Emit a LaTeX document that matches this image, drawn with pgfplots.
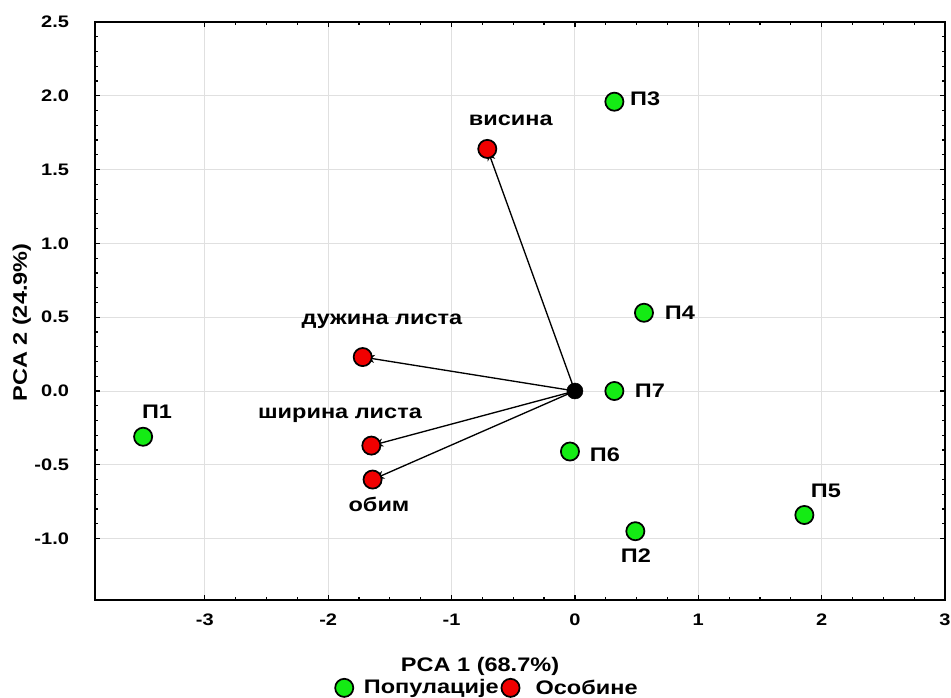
\documentclass[border=0pt]{standalone}
\usepackage{fontspec}
\setmainfont{Liberation Sans}[FakeStretch=1.2]
\usepackage{pgfplots}
\usepackage{pgfplotstable}
\pgfplotsset{compat=1.18}
\usetikzlibrary{arrows.meta}
\definecolor{ptgreen}{RGB}{20,235,20}
\definecolor{ptred}{RGB}{240,0,0}
\newcommand{\tickfont}{\fontsize{12.5pt}{14pt}\selectfont\bfseries}
\newcommand{\lblfont}{\fontsize{14.7pt}{16pt}\selectfont\bfseries}

\pgfplotstableread{
x y
-3.50 -0.31
0.49 -0.95
0.32 1.96
0.56 0.53
1.86 -0.84
-0.04 -0.41
0.32 0.00
}\pops

\pgfplotstableread{
x y
-0.71 1.64
-1.72 0.23
-1.65 -0.37
-1.64 -0.60
}\feats

\pgfplotstableread{
x0 y0 u v
0 0 -0.71 1.64
0 0 -1.72 0.23
0 0 -1.65 -0.37
0 0 -1.64 -0.60
}\vecs

\begin{document}
\begin{tikzpicture}
\begin{axis}[
  scale only axis, width=637.5pt, height=433.5pt,
  xmin=-3.89, xmax=3, ymin=-1.416, ymax=2.5,
  xtick={-3,-2,-1,0,1,2,3},
  ytick={-1,-0.5,0,0.5,1,1.5,2,2.5},
  minor x tick num=3, minor y tick num=4,
  tick align=inside,
  major tick length=3.5pt, minor tick length=2.3pt,
  tick style={black, line width=0.9pt},
  grid=major, major grid style={black!12, line width=0.7pt},
  axis line style={line width=1.2pt},
  /pgf/number format/assume math mode=true,
  xticklabel style={font=\tickfont, yshift=-7pt},
  yticklabel style={font=\tickfont, xshift=-16pt,
    /pgf/number format/.cd, fixed, fixed zerofill, precision=1},
  xlabel={PCA 1 (68.7\%)},
  ylabel={PCA 2 (24.9\%)},
  xlabel style={font=\lblfont, at={(axis description cs:0.453,-0.115)}, anchor=center},
  ylabel style={font=\lblfont, at={(axis description cs:-0.086,0.48)}, anchor=center, rotate=0},
  legend columns=2,
  legend style={draw=none, fill=none, font=\lblfont, at={(axis description cs:0.462,-0.152)}, anchor=center,
    /tikz/every even column/.append style={column sep=0pt}, inner sep=0pt},
  clip=false,
]
\addplot[only marks, mark=*, mark size=6.8pt, mark options={fill=ptgreen, draw=black, line width=1.3pt}] table {\pops};
\addlegendentry{\hspace{6pt}Популације}
\addplot[only marks, mark=*, mark size=6.8pt, mark options={fill=ptred, draw=black, line width=1.3pt}] table {\feats};
\addlegendentry{\hspace{10pt}Особине}
\addplot[forget plot, black, line width=1pt, -{Stealth[length=9pt, width=6pt, inset=2.5pt]},
  quiver={u=\thisrow{u}, v=\thisrow{v}}] table[x=x0, y=y0] {\vecs};
\addplot[forget plot, only marks, mark=*, mark size=6pt, mark options={fill=black, draw=black}] coordinates {(0,0)};
\node[font=\lblfont] at (axis cs:-3.387,-0.142) {П1};
\node[font=\lblfont] at (axis cs:0.494,-1.118) {П2};
\node[font=\lblfont] at (axis cs:0.57,1.978) {П3};
\node[font=\lblfont] at (axis cs:0.851,0.528) {П4};
\node[font=\lblfont] at (axis cs:2.034,-0.678) {П5};
\node[font=\lblfont] at (axis cs:0.243,-0.434) {П6};
\node[font=\lblfont] at (axis cs:0.608,0) {П7};
\node[font=\lblfont] at (axis cs:-0.52,1.836) {висина};
\node[font=\lblfont] at (axis cs:-1.564,0.475) {дужина листа};
\node[font=\lblfont] at (axis cs:-1.904,-0.165) {ширина листа};
\node[font=\lblfont] at (axis cs:-1.588,-0.77) {обим};
\coordinate (SW) at (rel axis cs:0,0);
\coordinate (NE) at (rel axis cs:1,1);
\end{axis}
\pgfresetboundingbox
\path ([shift={(-71.25pt,-73.5pt)}]SW) rectangle ([shift={(4.5pt,16.5pt)}]NE);
\end{tikzpicture}
\end{document}
